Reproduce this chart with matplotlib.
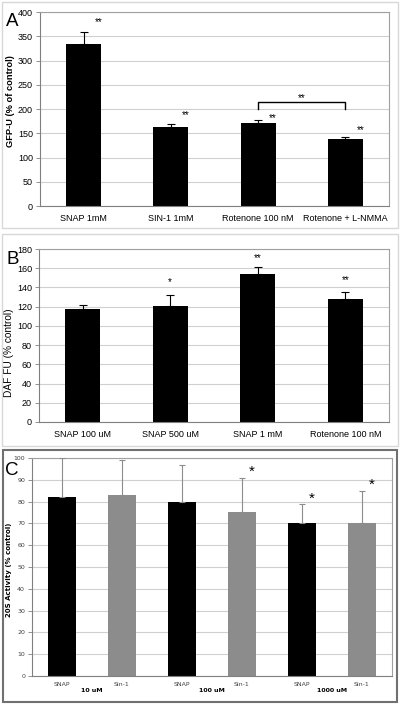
#three panel bar figure (A: GFP-U, B: DAF FU, C: 20S activity)
import numpy as np
import matplotlib
matplotlib.use('Agg')
import matplotlib.pyplot as plt
from matplotlib.patches import Rectangle

plt.rcParams['font.family'] = ['Liberation Sans', 'DejaVu Sans']

#panel A data
a_labels = ['SNAP 1mM', 'SIN-1 1mM', 'Rotenone 100 nM', 'Rotenone + L-NMMA']
a_values = [335, 163, 171, 138]
a_err = [23, 6, 7, 5]
a_stars = ['**', '**', '**', '**']
a_star_y = [380, 188, 181, 157]

#panel B data
b_labels = ['SNAP 100 uM', 'SNAP 500 uM', 'SNAP 1 mM', 'Rotenone 100 nM']
b_values = [118, 121, 154, 128]
b_err = [4, 11, 7, 7]
b_stars = ['', '*', '**', '**']
b_star_y = [0, 146, 171, 148]

#panel C data
c_labels = ['SNAP', 'Sin-1', 'SNAP', 'Sin-1', 'SNAP', 'Sin-1']
c_groups = ['10 uM', '100 uM', '1000 uM']
c_values = [82, 83, 80, 75, 70, 70]
c_err = [18, 16, 17, 16, 9, 15]
c_stars = ['', '', '', '*', '*', '*']
c_colors = ['black', '#8c8c8c', 'black', '#8c8c8c', 'black', '#8c8c8c']

fig = plt.figure(figsize=(4, 7.06), dpi=100)

#panel frames
fig.patches.append(Rectangle((0.005, 0.677), 0.99, 0.32, transform=fig.transFigure,
                             fill=False, edgecolor='#d8d8d8', lw=1))
fig.patches.append(Rectangle((0.005, 0.368), 0.99, 0.300, transform=fig.transFigure,
                             fill=False, edgecolor='#d8d8d8', lw=1))
fig.patches.append(Rectangle((0.008, 0.005), 0.985, 0.358, transform=fig.transFigure,
                             fill=False, edgecolor='#707070', lw=1.5))


def style_ax(ax):
    for s in ax.spines.values():
        s.set_color('#a0a0a0')
        s.set_linewidth(0.8)
    ax.spines['bottom'].set_color('#808080')
    ax.spines['left'].set_color('#808080')
    ax.yaxis.grid(True, color='#d0d0d0', lw=0.8)
    ax.set_axisbelow(True)
    ax.tick_params(axis='y', length=3, width=0.6, color='#808080', pad=2)
    ax.tick_params(axis='x', length=0, pad=6)


#panel A
axA = fig.add_axes([0.1, 0.7082, 0.8725, 0.2748])
xa = np.arange(len(a_values))
axA.bar(xa, a_values, width=0.4, color='black', zorder=2)
axA.errorbar(xa, a_values, yerr=[np.zeros(len(a_err)), a_err], fmt='none',
             ecolor='black', elinewidth=0.8, capsize=3, capthick=0.8, zorder=3)
for i in range(len(xa)):
    axA.text(xa[i] + 0.17, a_star_y[i], a_stars[i], ha='center', va='center', fontsize=7)
axA.plot([2, 2, 3, 3], [200, 214, 214, 200], color='black', lw=1)
axA.text(2.5, 222, '**', ha='center', va='center', fontsize=7)
axA.set_ylim(0, 400)
axA.set_yticks(np.arange(0, 401, 50))
axA.set_xlim(-0.5, 3.5)
axA.set_xticks(xa)
axA.set_xticklabels(a_labels, fontsize=6.5)
axA.tick_params(axis='y', labelsize=6.5)
axA.set_ylabel('GFP-U (% of control)', fontsize=6.7, fontweight='bold')
axA.yaxis.set_label_coords(-0.072, 0.54)
style_ax(axA)
fig.text(0.015, 0.969, 'A', fontsize=13.5, va='center')

#panel B
axB = fig.add_axes([0.0975, 0.4023, 0.875, 0.245])
xb = np.arange(len(b_values))
axB.bar(xb, b_values, width=0.4, color='black', zorder=2)
axB.errorbar(xb, b_values, yerr=[np.zeros(len(b_err)), b_err], fmt='none',
             ecolor='black', elinewidth=0.8, capsize=3, capthick=0.8, zorder=3)
for i in range(len(xb)):
    axB.text(xb[i], b_star_y[i], b_stars[i], ha='center', va='center', fontsize=7)
axB.set_ylim(0, 180)
axB.set_yticks(np.arange(0, 181, 20))
axB.set_xlim(-0.5, 3.5)
axB.set_xticks(xb)
axB.set_xticklabels(b_labels, fontsize=6.5)
axB.tick_params(axis='y', labelsize=6.5)
axB.set_ylabel('DAF FU (% control)', fontsize=7.3)
axB.yaxis.set_label_coords(-0.07, 0.40)
style_ax(axB)
fig.text(0.015, 0.632, 'B', fontsize=13.5, va='center')

#panel C
axC = fig.add_axes([0.08, 0.0425, 0.9, 0.3088])
xc = np.arange(len(c_values))
axC.bar(xc, c_values, width=0.47, color=c_colors, zorder=2)
axC.errorbar(xc, c_values, yerr=[np.zeros(len(c_err)), c_err], fmt='none',
             ecolor='#8c8c8c', elinewidth=0.8, capsize=2.5, capthick=0.8, zorder=3)
for i in range(len(xc)):
    if c_stars[i]:
        axC.text(xc[i] + 0.12, c_values[i] + c_err[i] + 2.5, c_stars[i],
                 ha='left', va='center', fontsize=11)
axC.set_ylim(0, 100)
axC.set_yticks(np.arange(0, 101, 10))
axC.set_xlim(-0.5, 5.5)
axC.set_xticks(xc)
axC.set_xticklabels(c_labels, fontsize=4.5, family='DejaVu Sans', color='#404040')
for j in range(len(c_groups)):
    axC.text(2 * j + 0.5, -0.065, c_groups[j], transform=axC.get_xaxis_transform(),
             ha='center', va='center', fontsize=4.5, fontweight='bold', family='DejaVu Sans')
axC.tick_params(axis='y', labelsize=4.5, labelfontfamily='DejaVu Sans', labelcolor='#404040')
axC.set_ylabel('20S Activity (% control)', fontsize=5, fontweight='bold',
               family='DejaVu Sans')
axC.yaxis.set_label_coords(-0.055, 0.486)
style_ax(axC)
axC.tick_params(axis='x', pad=4)
fig.text(0.012, 0.333, 'C', fontsize=13.5, va='center')

plt.savefig('out.png', dpi=100)
